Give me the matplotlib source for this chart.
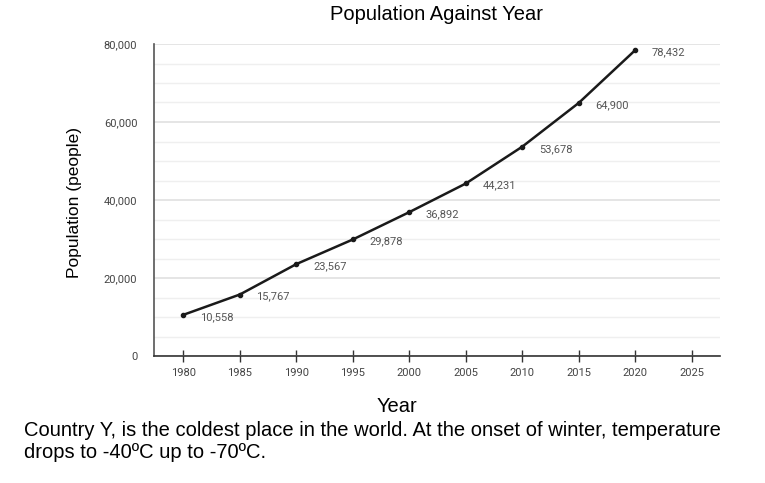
import matplotlib.pyplot as plt
from matplotlib.ticker import FuncFormatter, MultipleLocator

years = [1980, 1985, 1990, 1995, 2000, 2005, 2010, 2015, 2020]
population = [10558, 15767, 23567, 29878, 36892, 44231, 53678, 64900, 78432]
x_ticks = [1980, 1985, 1990, 1995, 2000, 2005, 2010, 2015, 2020, 2025]
y_ticks = [0, 20000, 40000, 60000, 80000]

W, H = 765, 483
fig = plt.figure(figsize=(W / 100, H / 100), dpi=100)
ax = fig.add_axes([154 / W, 1 - 356 / H, (720 - 154) / W, (356 - 44) / H])

# grid: light lines every 5000, a bit darker every 20000
ax.yaxis.set_minor_locator(MultipleLocator(5000))
ax.set_yticks(y_ticks)
ax.grid(True, axis='y', which='minor', color='#efefef', lw=1)
ax.grid(True, axis='y', which='major', color='#e0e0e0', lw=1.2)
ax.set_axisbelow(True)

ax.plot(years, population, color='#1a1a1a', lw=1.8, marker='o', ms=3, zorder=3)
for x, y in zip(years, population):
    ax.annotate(f'{y:,}', (x, y), xytext=(12, -1.5), textcoords='offset points',
                fontsize=8, family='Roboto', color='#555555', va='center', ha='left')

ax.set_xlim(1977.4, 2027.5)
ax.set_ylim(0, 80000)
ax.set_xticks(x_ticks)
ax.yaxis.set_major_formatter(FuncFormatter(lambda v, p: f'{int(v):,}'))

for s in ['top', 'right']:
    ax.spines[s].set_visible(False)
ax.spines['left'].set_color('#555555')
ax.spines['left'].set_linewidth(1.2)
ax.spines['bottom'].set_color('#333333')
ax.spines['bottom'].set_linewidth(1.2)

ax.tick_params(axis='x', direction='inout', length=9, width=1, color='#333333',
               labelsize=8, labelcolor='#444444', pad=4)
ax.tick_params(axis='y', which='both', length=0, labelsize=8, labelcolor='#444444', pad=12)
for lab in ax.get_xticklabels() + ax.get_yticklabels():
    lab.set_family('Roboto')

fig.text(437 / W, 1 - 14 / H, 'Population Against Year', ha='center', va='center',
         fontsize=14.5, family='Liberation Sans')
fig.text(75 / W, 1 - 203 / H, 'Population (people)', ha='center', va='center',
         rotation=90, fontsize=12.5, family='Liberation Sans')
fig.text(397 / W, 1 - 407 / H, 'Year', ha='center', va='center',
         fontsize=14.5, family='Liberation Sans')
fig.text(24 / W, 1 - 421 / H,
         'Country Y, is the coldest place in the world. At the onset of winter, temperature\n'
         'drops to -40ºC up to -70ºC.',
         ha='left', va='top', fontsize=14.5, family='Liberation Sans', linespacing=1.2)

fig.savefig('out.png', dpi=100)
